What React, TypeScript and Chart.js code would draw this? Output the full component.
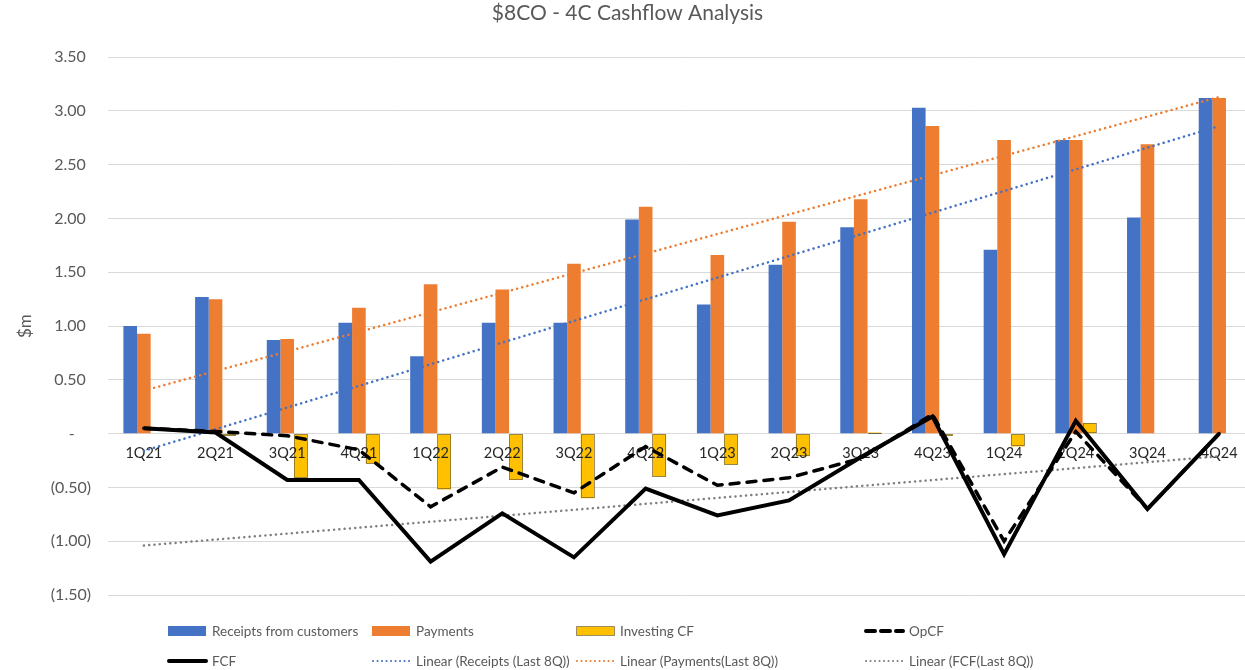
import React, { useEffect, useRef } from 'react';
import { Chart, registerables } from 'chart.js';

Chart.register(...registerables);

const categories = ['1Q21', '2Q21', '3Q21', '4Q21', '1Q22', '2Q22', '3Q22', '4Q22', '1Q23', '2Q23', '3Q23', '4Q23', '1Q24', '2Q24', '3Q24', '4Q24'];
const receipts = [1.00, 1.27, 0.87, 1.03, 0.72, 1.03, 1.03, 1.99, 1.20, 1.57, 1.92, 3.03, 1.71, 2.73, 2.01, 3.12];
const payments = [0.93, 1.25, 0.88, 1.17, 1.39, 1.34, 1.58, 2.11, 1.66, 1.97, 2.18, 2.86, 2.73, 2.73, 2.69, 3.12];
const investingCF = [0, -0.02, -0.41, -0.28, -0.52, -0.43, -0.60, -0.40, -0.29, -0.21, 0.01, -0.02, -0.12, 0.10, 0, 0];
const opCF = [0.05, 0.02, -0.02, -0.15, -0.68, -0.31, -0.55, -0.12, -0.48, -0.41, -0.23, 0.18, -1.00, 0.02, -0.70, 0.00];
const fcf = [0.05, 0.01, -0.43, -0.43, -1.19, -0.74, -1.15, -0.51, -0.76, -0.62, -0.22, 0.16, -1.12, 0.12, -0.70, 0.00];

const trendLabels = ['1Q21', '4Q24'];
const receiptsTrend = [-0.16, 2.86];
const paymentsTrend = [0.40, 3.13];
const fcfTrend = [-1.04, -0.21];

const yTicks = { min: -1.5, max: 3.5, step: 0.5 };

const BLUE = '#4472C4';
const ORANGE = '#ED7D31';
const YELLOW = '#FFC000';
const GREY = '#7F7F7F';
const TEXT = '#595959';
const GRID = '#D9D9D9';
const FONT = 'Lato, "Open Sans", sans-serif';

// Draws the dotted outline of the Investing CF bars and puts the category
// labels above the bars but below the lines (as in the spreadsheet chart).
const layeringPlugin = {
  id: 'layering',
  beforeDraw(chart: any) {
    const s = chart.scales.x;
    if (s && !s.__patched) {
      s.__origDrawLabels = s.drawLabels;
      s.drawLabels = () => {};
      s.__patched = true;
    }
  },
  afterDatasetDraw(chart: any, args: any) {
    const ds = chart.data.datasets[args.index];
    const ctx = chart.ctx;
    if (ds.label === 'Investing CF') {
      ctx.save();
      ctx.strokeStyle = '#3a3a3a';
      ctx.lineWidth = 1;
      ctx.setLineDash([1, 1]);
      args.meta.data.forEach((el: any) => {
        const { x, y, base, width } = el.getProps(['x', 'y', 'base', 'width'], true);
        const h = Math.abs(base - y);
        if (h < 0.5) return;
        ctx.strokeRect(Math.round(x - width / 2) + 0.5, Math.round(Math.min(y, base)) + 0.5, Math.round(width) - 1, Math.round(h) - 1);
      });
      ctx.restore();
    }
    if (ds.label === 'Receipts from customers') {
      const s = chart.scales.x;
      if (s && s.__origDrawLabels) s.__origDrawLabels.call(s, chart.chartArea);
    }
  },
};

const trendData = (vals: number[]) => trendLabels.map((c, i) => ({ x: c, y: vals[i] }));

function fmt(v: number) {
  if (Math.abs(v) < 1e-9) return '-    ';
  if (v < 0) return '(' + Math.abs(v).toFixed(2) + ')';
  return v.toFixed(2) + ' \u200A';
}

type Sym = 'box' | 'dottedBox' | 'solid' | 'dashed' | 'dotted';

const legendItems: { label: string; color: string; sym: Sym; col: number; row: number }[] = [
  { label: 'Receipts from customers', color: BLUE, sym: 'box', col: 0, row: 0 },
  { label: 'Payments', color: ORANGE, sym: 'box', col: 1, row: 0 },
  { label: 'Investing CF', color: YELLOW, sym: 'dottedBox', col: 2, row: 0 },
  { label: 'OpCF', color: '#000000', sym: 'dashed', col: 3, row: 0 },
  { label: 'FCF', color: '#000000', sym: 'solid', col: 0, row: 1 },
  { label: 'Linear (Receipts (Last 8Q))', color: BLUE, sym: 'dotted', col: 1, row: 1 },
  { label: 'Linear (Payments(Last 8Q))', color: ORANGE, sym: 'dotted', col: 2, row: 1 },
  { label: 'Linear (FCF(Last 8Q))', color: GREY, sym: 'dotted', col: 3, row: 1 },
];
const legendCols = [167, 371, 575, 864];
const legendRows = [631, 661];

function Symbol({ sym, color }: { sym: Sym; color: string }) {
  return (
    <svg width={42} height={14} style={{ display: 'block' }}>
      {sym === 'box' && <rect x={1} y={2} width={38} height={10} fill={color} />}
      {sym === 'dottedBox' && (
        <rect x={1.5} y={2.5} width={38} height={9} fill={color} stroke="#3a3a3a" strokeWidth={1} strokeDasharray="1,1" />
      )}
      {sym === 'solid' && <line x1={2} y1={7} x2={39} y2={7} stroke={color} strokeWidth={4} strokeLinecap="round" />}
      {sym === 'dashed' && (
        <line x1={2} y1={7} x2={39} y2={7} stroke={color} strokeWidth={4} strokeLinecap="round" strokeDasharray="9,6" />
      )}
      {sym === 'dotted' && (
        <line x1={2} y1={7} x2={39} y2={7} stroke={color} strokeWidth={2} strokeLinecap="round" strokeDasharray="0.1,4.4" />
      )}
    </svg>
  );
}

export default function App() {
  const ref = useRef<HTMLCanvasElement>(null);

  useEffect(() => {
    if (!ref.current) return;
    const chart = new Chart(ref.current, {
      type: 'bar',
      data: {
        labels: categories,
        datasets: [
          {
            type: 'line',
            label: 'FCF',
            data: fcf,
            borderColor: '#000000',
            borderWidth: 4,
            pointRadius: 0,
            tension: 0,
            borderJoinStyle: 'miter',
            order: 1,
          } as any,
          {
            type: 'line',
            label: 'OpCF',
            data: opCF,
            borderColor: '#000000',
            borderWidth: 3.5,
            borderDash: [9, 8],
            borderCapStyle: 'round',
            pointRadius: 0,
            tension: 0,
            order: 2,
          } as any,
          {
            type: 'line',
            label: 'Linear (Receipts (Last 8Q))',
            data: trendData(receiptsTrend),
            borderColor: BLUE,
            borderWidth: 2.5,
            borderDash: [0.1, 5.2],
            borderCapStyle: 'round',
            pointRadius: 0,
            order: 3,
          } as any,
          {
            type: 'line',
            label: 'Linear (Payments(Last 8Q))',
            data: trendData(paymentsTrend),
            borderColor: ORANGE,
            borderWidth: 2.5,
            borderDash: [0.1, 5.2],
            borderCapStyle: 'round',
            pointRadius: 0,
            order: 4,
          } as any,
          {
            type: 'line',
            label: 'Linear (FCF(Last 8Q))',
            data: trendData(fcfTrend),
            borderColor: GREY,
            borderWidth: 2.5,
            borderDash: [0.1, 5.2],
            borderCapStyle: 'round',
            pointRadius: 0,
            order: 5,
          } as any,
          {
            label: 'Receipts from customers',
            data: receipts,
            backgroundColor: BLUE,
            categoryPercentage: 0.57,
            barPercentage: 1,
            order: 10,
          },
          {
            label: 'Payments',
            data: payments,
            backgroundColor: ORANGE,
            categoryPercentage: 0.57,
            barPercentage: 1,
            order: 11,
          },
          {
            label: 'Investing CF',
            data: investingCF,
            backgroundColor: YELLOW,
            categoryPercentage: 0.57,
            barPercentage: 1,
            order: 12,
          },
        ],
      },
      options: {
        responsive: false,
        animation: false,
        devicePixelRatio: 1,
        layout: { padding: { top: 0, bottom: 75, left: 0, right: 1 } },
        plugins: {
          legend: { display: false },
          tooltip: { enabled: false },
          title: {
            display: true,
            text: '$8CO - 4C Cashflow Analysis',
            color: TEXT,
            font: { family: FONT, size: 21, weight: 'normal' },
            padding: { top: 1, bottom: 31 },
          },
        },
        scales: {
          x: {
            position: { y: 0 } as any,
            grid: { display: false, drawTicks: false },
            border: { display: false },
            ticks: {
              color: '#262626',
              font: { family: FONT, size: 14.5 },
              padding: 11,
              maxRotation: 0,
              autoSkip: false,
            },
          },
          y: {
            min: yTicks.min,
            max: yTicks.max,
            grid: { color: GRID, lineWidth: 1, drawTicks: false },
            border: { display: false },
            ticks: {
              stepSize: yTicks.step,
              color: TEXT,
              font: { family: FONT, size: 16 },
              padding: 17,
              callback: (v: any) => fmt(Number(v)),
            },
            title: {
              display: true,
              text: '$m',
              color: TEXT,
              font: { family: FONT, size: 17 },
              padding: { top: 15, bottom: 0 },
            },
            afterFit: (scale: any) => {
              scale.width = 108;
            },
          },
        },
      },
      plugins: [layeringPlugin],
    });
    return () => chart.destroy();
  }, []);

  return (
    <div style={{ position: 'absolute', left: 0, top: 0, width: 1245, height: 670, overflow: 'hidden', background: '#ffffff' }}>
      <canvas ref={ref} width={1256} height={670} style={{ position: 'absolute', left: 0, top: 0, width: 1256, height: 670 }} />
      {legendItems.map((it) => (
        <div
          key={it.label}
          style={{
            position: 'absolute',
            left: legendCols[it.col],
            top: legendRows[it.row] - 9,
            height: 18,
            display: 'flex',
            alignItems: 'center',
            whiteSpace: 'nowrap',
            fontFamily: FONT,
            fontSize: 13.5,
            color: TEXT,
          }}
        >
          <Symbol sym={it.sym} color={it.color} />
          <span style={{ marginLeft: 3 }}>{it.label}</span>
        </div>
      ))}
    </div>
  );
}
